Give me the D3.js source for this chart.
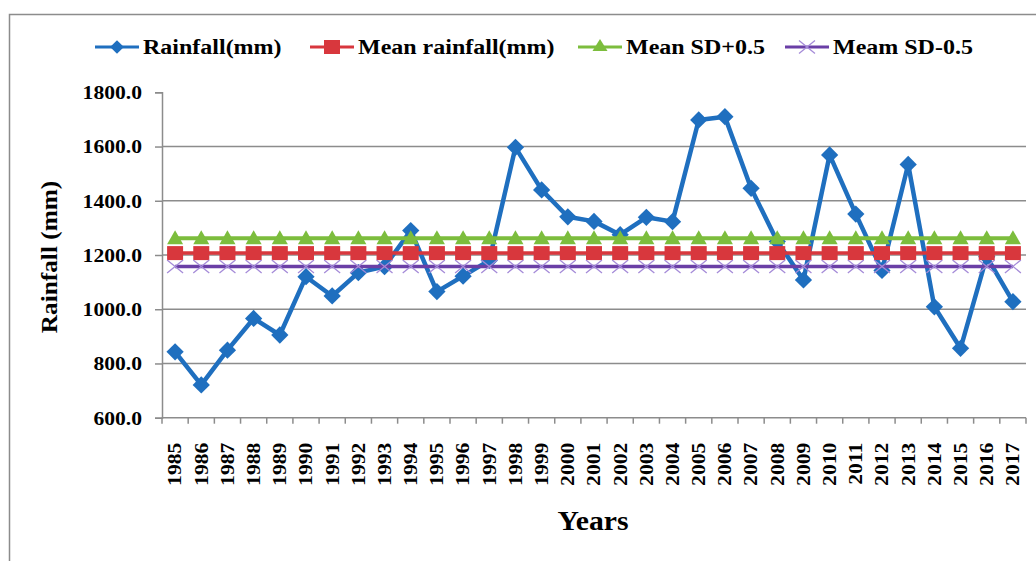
<!DOCTYPE html>
<html>
<head>
<meta charset="utf-8">
<script src="https://cdn.jsdelivr.net/npm/d3@7"></script>
<style>
  body { margin: 0; background: #fff; }
  text { font-family: "Liberation Serif", "Times New Roman", serif; font-weight: bold; fill: #000; }
</style>
</head>
<body>
<div id="chart"></div>
<script>
// data
const years = ["1985","1986","1987","1988","1989","1990","1991","1992","1993","1994","1995",
    "1996","1997","1998","1999","2000","2001","2002","2003","2004","2005","2006","2007",
    "2008","2009","2010","2011","2012","2013","2014","2015","2016","2017"];
const rainfall = [843, 721, 849, 966, 905, 1120, 1049, 1135, 1157, 1290, 1065,
    1122, 1180, 1597, 1440, 1341, 1324, 1275, 1339, 1323, 1698, 1710, 1446,
    1250, 1108, 1569, 1351, 1143, 1534, 1009, 856, 1194, 1028];
const meanRain = 1207;
const sdPlus = 1262;
const sdMinus = 1158;
const yTicks = [600, 800, 1000, 1200, 1400, 1600, 1800];

const W = 1036, H = 561;
const plot = { left: 162, right: 1026, top: 92.3, bottom: 417.7 };

const svg = d3.select("#chart").append("svg")
    .attr("width", W)
    .attr("height", H);

// outer chart frame
svg.append("rect")
    .attr("x", 9.5).attr("y", 14.5)
    .attr("width", 1040).attr("height", 560)
    .attr("fill", "none")
    .attr("stroke", "#8c8c8c")
    .attr("stroke-width", 1.5);

const x = d3.scalePoint()
    .domain(years)
    .range([plot.left, plot.right])
    .padding(0.5);
const step = x.step();

const y = d3.scaleLinear()
    .domain([600, 1800])
    .range([plot.bottom, plot.top]);

// gridlines
svg.append("g")
    .selectAll("line")
    .data(yTicks.filter(d => d > 600 && d < 1800))
    .join("line")
    .attr("x1", plot.left).attr("x2", plot.right)
    .attr("y1", d => y(d)).attr("y2", d => y(d))
    .attr("stroke", "#8c8c8c")
    .attr("stroke-width", 1.5);

// y axis
const yAxis = svg.append("g")
    .attr("transform", `translate(${plot.left},0)`)
    .call(d3.axisLeft(y).tickValues(yTicks).tickSize(7).tickPadding(0).tickFormat(d3.format(".1f")));
yAxis.select(".domain").attr("stroke", "#8c8c8c").attr("stroke-width", 1.5);
yAxis.selectAll(".tick line").attr("stroke", "#8c8c8c").attr("stroke-width", 1.5);
yAxis.selectAll(".tick text").remove();
yAxis.selectAll(".tick").append("text")
    .attr("text-anchor", "end")
    .attr("dominant-baseline", "central")
    .attr("font-size", 18)
    .attr("transform", "translate(-20,0) scale(1.2,1)")
    .text(d => d3.format(".1f")(d));

// x axis, ticks between categories
const xAxis = svg.append("g");
xAxis.append("line")
    .attr("x1", plot.left).attr("x2", plot.right)
    .attr("y1", plot.bottom).attr("y2", plot.bottom)
    .attr("stroke", "#8c8c8c").attr("stroke-width", 1.5);
xAxis.selectAll(".tk")
    .data(d3.range(years.length + 1))
    .join("line")
    .attr("class", "tk")
    .attr("x1", i => plot.left + i * step).attr("x2", i => plot.left + i * step)
    .attr("y1", plot.bottom).attr("y2", plot.bottom + 6)
    .attr("stroke", "#8c8c8c").attr("stroke-width", 1.5);
xAxis.selectAll(".lbl")
    .data(years)
    .join("text")
    .attr("class", "lbl")
    .attr("text-anchor", "end")
    .attr("dominant-baseline", "central")
    .attr("font-size", 18)
    .attr("transform", d => `translate(${x(d)},${plot.bottom + 25}) rotate(-90) scale(1.2,1)`)
    .text(d => d);

// axis titles
svg.append("text")
    .attr("text-anchor", "middle")
    .attr("font-size", 27)
    .attr("transform", "translate(593,530) scale(1.1,1)")
    .text("Years");
svg.append("text")
    .attr("text-anchor", "middle")
    .attr("font-size", 23)
    .attr("transform", "translate(57,257) rotate(-90) scale(1.1,1)")
    .text("Rainfall (mm)");

// series
const colors = { rain: "#1f6fbf", mean: "#d8373d", plus: "#7cbd3d", minus: "#6a3fa6", cross: "#a58bd8" };
const line = d3.line().x(d => x(d.year)).y(d => y(d.value));

const rainData = years.map((yr, i) => ({ year: yr, value: rainfall[i] }));
const flat = v => years.map(yr => ({ year: yr, value: v }));

const diamond = d3.symbol().type(d3.symbolDiamond2).size(190);
const square = "M-8,-7H8V7H-8Z";
const triangle = "M0,-13L8,1H-8Z";
const cross = "M-8,-6.5L8,6.5M-8,6.5L8,-6.5";

// rainfall
svg.append("path").datum(rainData)
    .attr("d", line).attr("fill", "none")
    .attr("stroke", colors.rain).attr("stroke-width", 4.5).attr("stroke-linejoin", "round");
svg.append("g").selectAll("path").data(rainData).join("path")
    .attr("d", diamond)
    .attr("transform", d => `translate(${x(d.year)},${y(d.value)})`)
    .attr("fill", colors.rain);

// mean
svg.append("path").datum(flat(meanRain))
    .attr("d", line).attr("fill", "none")
    .attr("stroke", colors.mean).attr("stroke-width", 3.5);
svg.append("g").selectAll("path").data(flat(meanRain)).join("path")
    .attr("d", square)
    .attr("transform", d => `translate(${x(d.year)},${y(d.value)})`)
    .attr("fill", colors.mean);

// mean + 0.5 SD
svg.append("path").datum(flat(sdPlus))
    .attr("d", line).attr("fill", "none")
    .attr("stroke", colors.plus).attr("stroke-width", 4);
svg.append("g").selectAll("path").data(flat(sdPlus)).join("path")
    .attr("d", triangle)
    .attr("transform", d => `translate(${x(d.year)},${y(d.value) + 5})`)
    .attr("fill", colors.plus);

// mean - 0.5 SD
svg.append("path").datum(flat(sdMinus))
    .attr("d", line).attr("fill", "none")
    .attr("stroke", colors.minus).attr("stroke-width", 3.5);
svg.append("g").selectAll("path").data(flat(sdMinus)).join("path")
    .attr("d", cross)
    .attr("transform", d => `translate(${x(d.year)},${y(d.value)})`)
    .attr("fill", "none")
    .attr("stroke", colors.cross).attr("stroke-width", 1.3);

// legend
const legendItems = [
    { name: "Rainfall(mm)", x: 95, color: colors.rain, mark: d3.symbol().type(d3.symbolDiamond2).size(120)(), mcol: colors.rain, stroke: false },
    { name: "Mean rainfall(mm)", x: 310, color: colors.mean, mark: square, mcol: colors.mean, stroke: false },
    { name: "Mean SD+0.5", x: 578, color: colors.plus, mark: "M0,-8L7.5,4H-7.5Z", mcol: colors.plus, stroke: false },
    { name: "Meam SD-0.5", x: 785, color: colors.minus, mark: cross, mcol: colors.cross, stroke: true }
];
const legend = svg.append("g").attr("transform", "translate(0,47)");
legendItems.forEach(it => {
    const g = legend.append("g").attr("transform", `translate(${it.x},0)`);
    g.append("line").attr("x1", 0).attr("x2", 44)
        .attr("stroke", it.color).attr("stroke-width", 3);
    const m = g.append("path").attr("d", it.mark).attr("transform", "translate(22,0)");
    if (it.stroke) m.attr("fill", "none").attr("stroke", it.mcol).attr("stroke-width", 1.3);
    else m.attr("fill", it.mcol);
    g.append("text")
        .attr("dominant-baseline", "central")
        .attr("font-size", 20)
        .attr("transform", "translate(48,0) scale(1.2,1)")
        .text(it.name);
});
</script>
</body>
</html>
